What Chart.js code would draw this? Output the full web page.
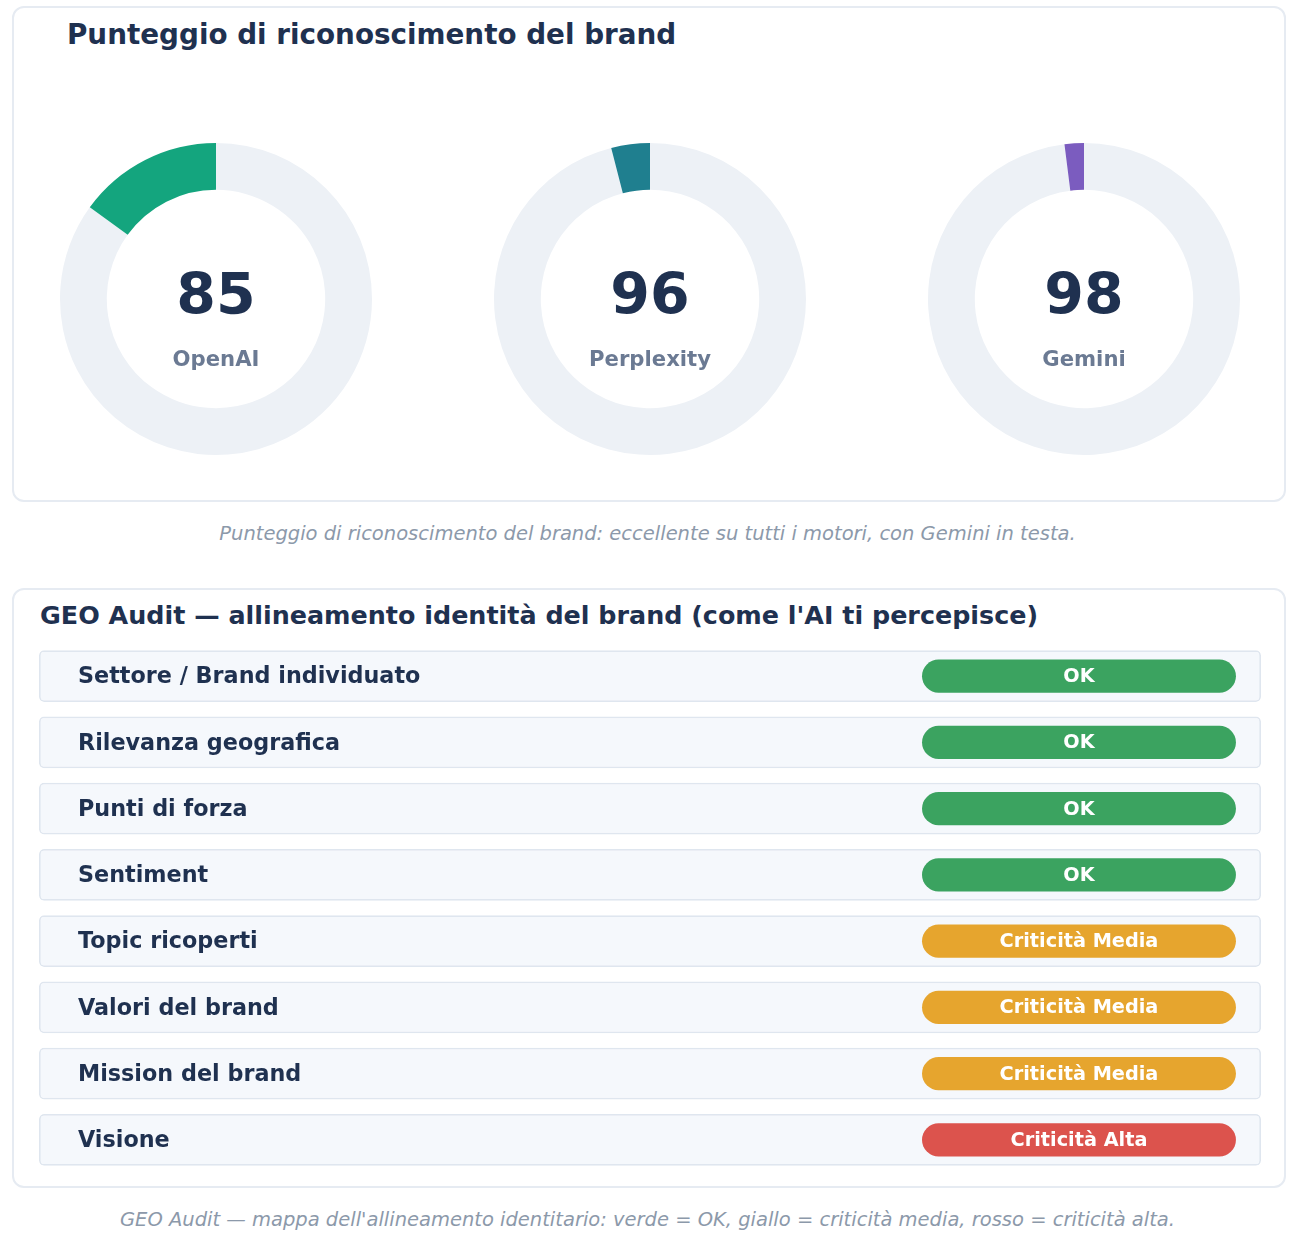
<!DOCTYPE html>
<html>
<head>
<meta charset="utf-8">
<script src="https://cdn.jsdelivr.net/npm/chart.js@4.4.1/dist/chart.umd.min.js"></script>
<style>
  html, body { margin: 0; padding: 0; background: #ffffff; }
  body { width: 1295px; height: 1248px; position: relative; overflow: hidden; font-family: "DejaVu Sans", sans-serif; }
  .card { position: absolute; box-sizing: border-box; border: 2px solid #e6ebf2; border-radius: 12px; background: #fff; }
  .title { position: absolute; font-weight: bold; color: #1f3150; white-space: nowrap; line-height: 1; }
  .caption { position: absolute; left: 0; width: 1295px; text-align: center; font-style: italic; color: #8c99aa; white-space: nowrap; line-height: 1; }
  canvas { position: absolute; }
</style>
</head>
<body>
<div class="card" style="left:12px;top:6px;width:1274px;height:496px;"></div>
<div class="title" id="t1" style="left:67px;top:21px;font-size:27.8px;">Punteggio di riconoscimento del brand</div>
<div class="caption" style="top:524px;font-size:19.5px;">Punteggio di riconoscimento del brand: eccellente su tutti i motori, con Gemini in testa.</div>

<div class="card" style="left:12px;top:588px;width:1274px;height:600px;"></div>
<div class="title" id="t2" style="left:40px;top:603px;font-size:25.4px;">GEO Audit — allineamento identità del brand (come l'AI ti percepisce)</div>
<div class="caption" style="top:1210px;font-size:19.5px;">GEO Audit — mappa dell'allineamento identitario: verde = OK, giallo = criticità media, rosso = criticità alta.</div>

<canvas id="d0" style="left:56px;top:139px;" width="320" height="320"></canvas>
<canvas id="d1" style="left:490px;top:139px;" width="320" height="320"></canvas>
<canvas id="d2" style="left:924px;top:139px;" width="320" height="320"></canvas>
<canvas id="audit" style="left:35px;top:639.2px;" width="1230" height="538"></canvas>

<script>
// ---- data ----
const engines = ["OpenAI", "Perplexity", "Gemini"];
const scores = [85, 96, 98];
const engineColors = ["#14a57e", "#1f7f8f", "#7b5cbf"];

const auditItems = [
  "Settore / Brand individuato",
  "Rilevanza geografica",
  "Punti di forza",
  "Sentiment",
  "Topic ricoperti",
  "Valori del brand",
  "Mission del brand",
  "Visione"
];
const auditStatus = ["OK", "OK", "OK", "OK", "Criticità Media", "Criticità Media", "Criticità Media", "Criticità Alta"];
const statusColors = { "OK": "#3ba360", "Criticità Media": "#e6a52e", "Criticità Alta": "#dc534d" };

// ---- donuts ----
const FONT = '"DejaVu Sans", sans-serif';
const centerText = {
  id: 'centerText',
  afterDraw(chart) {
    const meta = chart.getDatasetMeta(0);
    const arc = meta.data[0];
    if (!arc) return;
    const { x, y } = arc;
    const ctx = chart.ctx;
    const i = chart.options.plugins.centerText.index;
    ctx.save();
    ctx.textAlign = 'center';
    ctx.textBaseline = 'middle';
    ctx.fillStyle = '#1f3150';
    ctx.font = 'bold 57px ' + FONT;
    ctx.fillText(String(scores[i]), x, y);
    ctx.fillStyle = '#6b7a93';
    ctx.font = 'bold 21.2px ' + FONT;
    ctx.fillText(engines[i], x, y + 61);
    ctx.restore();
  }
};

engines.forEach((name, i) => {
  new Chart(document.getElementById('d' + i), {
    type: 'doughnut',
    data: {
      labels: ['score', 'gap'],
      datasets: [{
        data: [scores[i], 100 - scores[i]],
        backgroundColor: ['#edf1f6', engineColors[i]],
        borderWidth: 0,
        hoverOffset: 0
      }]
    },
    options: {
      responsive: false,
      animation: false,
      cutout: '70%',
      rotation: 0,
      layout: { padding: 4 },
      events: [],
      plugins: { legend: { display: false }, tooltip: { enabled: false }, centerText: { index: i } }
    },
    plugins: [centerText]
  });
});

// ---- audit table ----
const BADGE_FROM = 72.26, BADGE_TO = 97.95;
const auditText = {
  id: 'auditText',
  afterDatasetsDraw(chart) {
    const ctx = chart.ctx;
    const ys = chart.scales.y;
    const xs = chart.scales.x;
    const badgeMeta = chart.getDatasetMeta(1);
    ctx.save();
    ctx.textBaseline = 'middle';
    auditItems.forEach((label, i) => {
      const y = ys.getPixelForValue(i) + 1.5;
      ctx.fillStyle = '#1f3150';
      ctx.font = 'bold 22.3px ' + FONT;
      ctx.textAlign = 'left';
      ctx.fillText(label, xs.left + 39, y);
      const bar = badgeMeta.data[i];
      ctx.fillStyle = '#ffffff';
      ctx.font = 'bold 19.3px ' + FONT;
      ctx.textAlign = 'center';
      ctx.fillText(auditStatus[i], (bar.x + bar.base) / 2, bar.y + 1);
    });
    ctx.restore();
  }
};

new Chart(document.getElementById('audit'), {
  type: 'bar',
  data: {
    labels: auditItems,
    datasets: [
      {
        data: auditItems.map(() => [0, 100]),
        backgroundColor: '#f5f8fc',
        borderColor: '#dfe6ef',
        borderWidth: 1.8,
        borderRadius: 5,
        borderSkipped: false,
        grouped: false,
        order: 2,
        barPercentage: 0.78,
        categoryPercentage: 1
      },
      {
        data: auditStatus.map(() => [BADGE_FROM, BADGE_TO]),
        backgroundColor: auditStatus.map(s => statusColors[s]),
        borderWidth: 0,
        borderRadius: 17,
        borderSkipped: false,
        grouped: false,
        order: 1,
        barPercentage: 0.5,
        categoryPercentage: 1
      }
    ]
  },
  options: {
    indexAxis: 'y',
    responsive: false,
    animation: false,
    events: [],
    layout: { padding: 4 },
    scales: {
      x: { display: false, min: 0, max: 100 },
      y: { display: false }
    },
    plugins: { legend: { display: false }, tooltip: { enabled: false } }
  },
  plugins: [auditText]
});
</script>
</body>
</html>
